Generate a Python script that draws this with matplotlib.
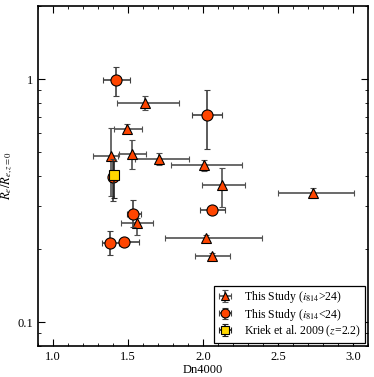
import matplotlib
matplotlib.use("Agg")
import matplotlib.pyplot as plt
import numpy as np

plt.rcParams['font.family'] = ['Liberation Serif', 'DejaVu Serif']
plt.rcParams['mathtext.fontset'] = 'stix'

# This Study, i814 > 24 (triangles)
tri_x = [1.613, 1.493, 1.383, 1.523, 1.705, 2.006, 2.129, 2.736, 1.556, 2.023, 2.060]
tri_y = [0.796, 0.626, 0.482, 0.491, 0.471, 0.442, 0.366, 0.339, 0.255, 0.221, 0.187]
tri_xlo = [1.427, 1.403, 1.267, 1.436, 1.545, 1.787, 1.996, 2.503, 1.453, 1.743, 1.947]
tri_xhi = [1.838, 1.591, 1.432, 1.618, 1.905, 2.263, 2.280, 3.005, 1.663, 2.396, 2.183]
tri_ylo = [0.745, 0.599, 0.331, 0.428, 0.445, 0.420, 0.299, 0.324, 0.228, 0.214, 0.181]
tri_yhi = [0.851, 0.657, 0.632, 0.561, 0.496, 0.464, 0.433, 0.357, 0.268, 0.228, 0.193]

# This Study, i814 < 24 (circles)
cir_x = [1.418, 2.027, 2.058, 1.533, 1.378, 1.473, 1.400]
cir_y = [0.988, 0.711, 0.289, 0.280, 0.212, 0.214, 0.395]
cir_xlo = [1.329, 1.929, 1.978, 1.489, 1.323, 1.440, 1.380]
cir_xhi = [1.511, 2.129, 2.145, 1.585, 1.440, 1.571, 1.420]
cir_ylo = [0.854, 0.518, 0.279, 0.247, 0.189, 0.208, 0.316]
cir_yhi = [1.124, 0.904, 0.299, 0.318, 0.237, 0.220, 0.470]

# Kriek et al. 2009
kr_x = [1.405]
kr_y = [0.405]
kr_xlo = [1.39]
kr_xhi = [1.42]
kr_ylo = [0.325]
kr_yhi = [0.46]


def err(v, lo, hi):
    v = np.array(v)
    return [v - np.array(lo), np.array(hi) - v]


fig = plt.figure(figsize=(3.74, 3.77), dpi=100)
ax = fig.add_axes([0.1024, 0.083, 0.881, 0.901])

ax.errorbar(tri_x, tri_y, xerr=err(tri_x, tri_xlo, tri_xhi), yerr=err(tri_y, tri_ylo, tri_yhi),
            fmt='^', color='orangered', mec='black', mew=0.8, ms=6.5,
            ecolor='#505050', elinewidth=1.2, capsize=2.5, capthick=1.2,
            label=r'This Study ($i_{814}$>24)', zorder=3)
ax.errorbar(cir_x, cir_y, xerr=err(cir_x, cir_xlo, cir_xhi), yerr=err(cir_y, cir_ylo, cir_yhi),
            fmt='o', color='orangered', mec='black', mew=0.8, ms=8,
            ecolor='#404040', elinewidth=1.2, capsize=2.5, capthick=1.2,
            label=r'This Study ($i_{814}$<24)', zorder=4)
ax.errorbar(kr_x, kr_y, xerr=err(kr_x, kr_xlo, kr_xhi), yerr=err(kr_y, kr_ylo, kr_yhi),
            fmt='s', color='gold', mec='black', mew=0.8, ms=7,
            ecolor='#202020', elinewidth=1.2, capsize=2.5, capthick=1.2,
            label=r'Kriek et al. 2009 ($z$=2.2)', zorder=5)

ax.set_yscale('log')
ax.set_xlim(0.9, 3.1)
ax.set_ylim(0.08, 2.0)
ax.set_yticks([0.1, 1])
ax.set_yticklabels(['0.1', '1'])
ax.set_xticks([1.0, 1.5, 2.0, 2.5, 3.0])
ax.set_xticklabels(['1.0', '1.5', '2.0', '2.5', '3.0'])
ax.xaxis.set_minor_locator(matplotlib.ticker.MultipleLocator(0.1))
ax.yaxis.set_minor_formatter(matplotlib.ticker.NullFormatter())
ax.tick_params(which='both', direction='in', top=True, right=True, labelsize=9)
ax.tick_params(which='major', length=5, width=0.8)
ax.tick_params(which='minor', length=2.5, width=0.6)
for s in ax.spines.values():
    s.set_linewidth(1.2)

ax.set_xlabel('Dn4000', fontsize=9, labelpad=1)
ax.set_ylabel(r'$R_e/R_{e,z=0}$', fontsize=9, labelpad=2)

leg = ax.legend(loc='lower right', fontsize=8.5, frameon=True, fancybox=False,
                edgecolor='black', framealpha=1, handletextpad=1.0,
                borderaxespad=0.25, handlelength=1.3, labelspacing=0.1,
                borderpad=0.3, markerscale=0.8)
leg.get_frame().set_linewidth(0.9)

fig.savefig('out.png', dpi=100)
